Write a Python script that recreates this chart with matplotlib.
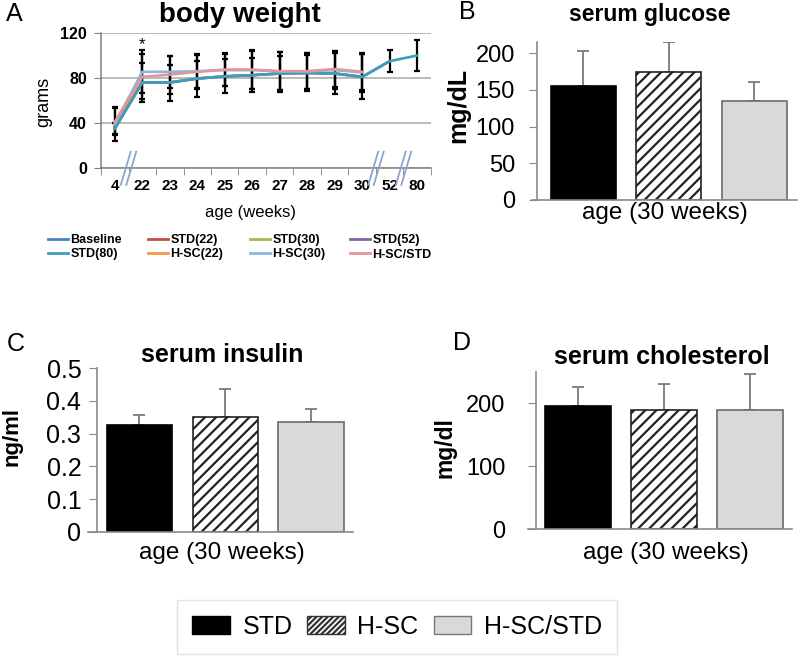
import matplotlib
matplotlib.use('Agg')
import matplotlib.pyplot as plt
import numpy as np
from matplotlib.patches import Patch
from matplotlib.lines import Line2D

plt.rcParams['font.family'] = ['Liberation Sans', 'DejaVu Sans']
plt.rcParams['hatch.linewidth'] = 1.6

W, H = 800, 657
fig = plt.figure(figsize=(8, 6.57), dpi=100)


def fx(px):
    return px / W


def fy(py):
    return 1 - py / H


# ---------------- data: panel A (body weight) ----------------
weeks = ['4', '22', '23', '24', '25', '26', '27', '28', '29', '30', '52', '80']
nan = np.nan
baseline = [36, nan, nan, nan, nan, nan, nan, nan, nan, nan, nan, nan]
std22 = [36, 76, nan, nan, nan, nan, nan, nan, nan, nan, nan, nan]
std30 = [35, 76, 76, 79.5, 81.5, 82.5, 84, 84.5, 84, 81, nan, nan]
std52 = [35, 76, 76, 79.5, 81.5, 82.5, 84, 84.5, 84, 81, 95, nan]
std80 = [35, 76, 76, 79.5, 81.5, 82.5, 84, 84.5, 84, 81, 95, 100]
std80_sd = [5, 17, 16, 16, 15, 15, 16, 16, 18, 20, 10, 14]
hsc22 = [40, 81, nan, nan, nan, nan, nan, nan, nan, nan, nan, nan]
hsc30 = [39, 85.5, 85.5, 86, 87, 87, 86, 86, 87, 85, nan, nan]
hsc30_sd = [15, 19, 14, 15, 14, 17, 17, 16, 17, 17, nan, nan]
hscstd = [41, 81, 83, 85.5, 87.5, 87.5, 86, 86, 88, 85.5, nan, nan]
hscstd_sd = [12, 20, 17, 15, 15, 17, 17, 16, 16, 16, nan, nan]
series_names = ['Baseline', 'STD(22)', 'STD(30)', 'STD(52)',
                'STD(80)', 'H-SC(22)', 'H-SC(30)', 'H-SC/STD']
series_vals = [baseline, std22, std30, std52, std80, hsc22, hsc30, hscstd]
series_colors = ['#4F81BD', '#C0504D', '#9BBB59', '#8064A2',
                 '#3A9FBB', '#F79646', '#8EB4E3', '#E0969A']
break_after = ['4', '30', '52']   # axis breaks after these weeks
star_week = '22'

# ---------------- data: panels B, C, D ----------------
groups = ['STD', 'H-SC', 'H-SC/STD']
glucose = [155, 174, 135]
glucose_err = [48, 41, 25]
insulin = [0.326, 0.350, 0.335]
insulin_err = [0.031, 0.088, 0.039]
chol = [195, 190, 190]
chol_err = [31, 41, 56]

# ================= Panel A =================
axA = fig.add_axes([fx(101), fy(168), fx(431) - fx(101), (168 - 33) / H])
xi = np.arange(len(weeks))
for name, vals, col in zip(series_names, series_vals, series_colors):
    axA.plot(xi, vals, color=col, lw=1.9, zorder=4, label=name)
for vals, sd in [(std80, std80_sd), (hscstd, hscstd_sd), (hsc30, hsc30_sd)]:
    axA.errorbar(xi, vals, yerr=sd, fmt='none', ecolor='black',
                 elinewidth=1.6, capsize=2.5, capthick=1.6, zorder=3)
axA.set_xlim(-0.5, len(weeks) - 0.5)
axA.set_ylim(0, 120)
axA.set_yticks([0, 40, 80, 120])
axA.yaxis.grid(True, color='#a8a8a8', lw=1.1)
axA.set_axisbelow(True)
for s in ['top', 'right']:
    axA.spines[s].set_visible(False)
for s in ['left', 'bottom']:
    axA.spines[s].set_color('#808080')
    axA.spines[s].set_linewidth(1.1)
axA.set_xticks(xi)
axA.set_xticklabels(weeks, fontsize=11, fontweight='bold')
axA.set_xticks(np.arange(-0.5, len(weeks), 1), minor=True)
axA.tick_params(axis='x', which='major', length=0, pad=8)
axA.tick_params(axis='x', which='minor', length=5, direction='out', color='#808080')
axA.tick_params(axis='y', length=5, direction='out', color='#808080',
                labelsize=11.5, pad=5)
for lab in axA.get_yticklabels():
    lab.set_fontweight('bold')
# break marks
for w in break_after:
    b = weeks.index(w) + 0.5
    for off in (-0.1, 0.1):
        axA.plot([b + off - 0.18, b + off + 0.18], [-15, 14.5], color='#8fa3cf',
                 lw=1.3, clip_on=False, zorder=6)
axA.text(weeks.index(star_week), 110, '*', ha='center', va='center', fontsize=12)

fig.text(fx(14), fy(14), 'A', fontsize=18, ha='center', va='center')
fig.text(fx(240), fy(15), 'body weight', fontsize=20, fontweight='bold',
         ha='center', va='center')
fig.text(fx(44), fy(102), 'grams', fontsize=13, rotation=90,
         ha='center', va='center')
fig.text(fx(251), fy(213), 'age (weeks)', fontsize=12, ha='center', va='center')

# legend of panel A: one legend per column, row-wise order
handles = {n: Line2D([], [], color=c, lw=2) for n, c in zip(series_names, series_colors)}
legend_cols = [['Baseline', 'STD(80)'], ['STD(22)', 'H-SC(22)'],
               ['STD(30)', 'H-SC(30)'], ['STD(52)', 'H-SC/STD']]
col_x = [48, 148, 250, 350]
for names, x0 in zip(legend_cols, col_x):
    fig.legend([handles[n] for n in names], names, loc='upper left',
               bbox_to_anchor=(fx(x0), fy(234)), borderaxespad=0, borderpad=0,
               frameon=False, prop={'size': 9, 'weight': 'bold'},
               handlelength=1.6, handletextpad=0.2, labelspacing=0.2)


# ================= Bar panels =================
def bar_panel(left_px, right_px, bottom_px, top_px, xlim, spine_x, vals, errs,
              ylim, yticks, yticklabels, pad, labelsize=17):
    ax = fig.add_axes([fx(left_px), fy(bottom_px), (right_px - left_px) / W,
                       (bottom_px - top_px) / H])
    x = np.arange(len(vals))
    bars = ax.bar(x, vals, width=0.76, zorder=2, linewidth=1.2)
    bars[0].set_facecolor('black')
    bars[0].set_edgecolor('black')
    bars[1].set_facecolor('white')
    bars[1].set_edgecolor('#222222')
    bars[1].set_hatch('///')
    bars[2].set_facecolor('#d9d9d9')
    bars[2].set_edgecolor('#6b6b6b')
    ax.errorbar(x, vals, yerr=[np.zeros(len(vals)), errs], fmt='none',
                ecolor='#7a7a7a', elinewidth=1.3, capsize=4, capthick=1.3,
                zorder=1)
    ax.set_xlim(*xlim)
    ax.set_ylim(*ylim)
    ax.set_xticks([])
    ax.set_yticks(yticks)
    ax.set_yticklabels(yticklabels)
    for s in ['top', 'right']:
        ax.spines[s].set_visible(False)
    ax.spines['left'].set_position(('data', spine_x))
    for s in ['left', 'bottom']:
        ax.spines[s].set_color('#8a8a8a')
        ax.spines[s].set_linewidth(1.2)
    ax.tick_params(axis='y', direction='out', length=6, color='#8a8a8a',
                   labelsize=labelsize, pad=pad)
    return ax


# Panel B
bar_panel(532, 797, 200, 42, (-0.6, 2.5), -0.54, glucose, glucose_err,
          (0, 215), [0, 50, 100, 150, 200], ['0', '50', '100', '150', '200'], 10)
fig.text(fx(467), fy(12), 'B', fontsize=18, ha='center', va='center')
fig.text(fx(650), fy(15), 'serum glucose', fontsize=16.5, fontweight='bold',
         ha='center', va='center')
fig.text(fx(458), fy(105), 'mg/dL', fontsize=18, fontweight='bold', rotation=90,
         ha='center', va='center')
fig.text(fx(665), fy(213), 'age (30 weeks)', fontsize=17.5, ha='center', va='center')

# Panel C
bar_panel(88, 353, 531.7, 368.3, (-0.6, 2.49), -0.5, insulin, insulin_err,
          (0, 0.5), [0, 0.1, 0.2, 0.3, 0.4, 0.5],
          ['0', '0.1', '0.2', '0.3', '0.4', '0.5'], 5, labelsize=18)
fig.text(fx(16), fy(344), 'C', fontsize=18, ha='center', va='center')
fig.text(fx(222), fy(355), 'serum insulin', fontsize=18, fontweight='bold',
         ha='center', va='center')
fig.text(fx(12), fy(437), 'ng/ml', fontsize=16, fontweight='bold', rotation=90,
         ha='center', va='center')
fig.text(fx(222), fy(553), 'age (30 weeks)', fontsize=17.5, ha='center', va='center')

# Panel D
bar_panel(528, 792, 529.3, 371.8, (-0.58, 2.49), -0.49, chol, chol_err,
          (0, 250), [0, 100, 200], ['0', '100', '200'], 16)
fig.text(fx(462), fy(343), 'D', fontsize=18, ha='center', va='center')
fig.text(fx(662), fy(357), 'serum cholesterol', fontsize=18, fontweight='bold',
         ha='center', va='center')
fig.text(fx(445), fy(448), 'mg/dl', fontsize=16.5, fontweight='bold', rotation=90,
         ha='center', va='center')
fig.text(fx(666), fy(553), 'age (30 weeks)', fontsize=17.5, ha='center', va='center')

# Shared legend
leg_handles = [Patch(facecolor='black', edgecolor='black'),
               Patch(facecolor='white', edgecolor='#333333', hatch='//////'),
               Patch(facecolor='#d9d9d9', edgecolor='#777777')]
leg = fig.legend(leg_handles, groups, loc='center', bbox_to_anchor=(fx(397), fy(627)),
                 ncol=3, fontsize=18, frameon=True, fancybox=False,
                 edgecolor='#dddddd', handlelength=1.5, handleheight=0.75,
                 handletextpad=0.5, columnspacing=0.6, borderpad=0.6)
leg.get_frame().set_linewidth(1.0)

fig.savefig('out.png', dpi=100)
